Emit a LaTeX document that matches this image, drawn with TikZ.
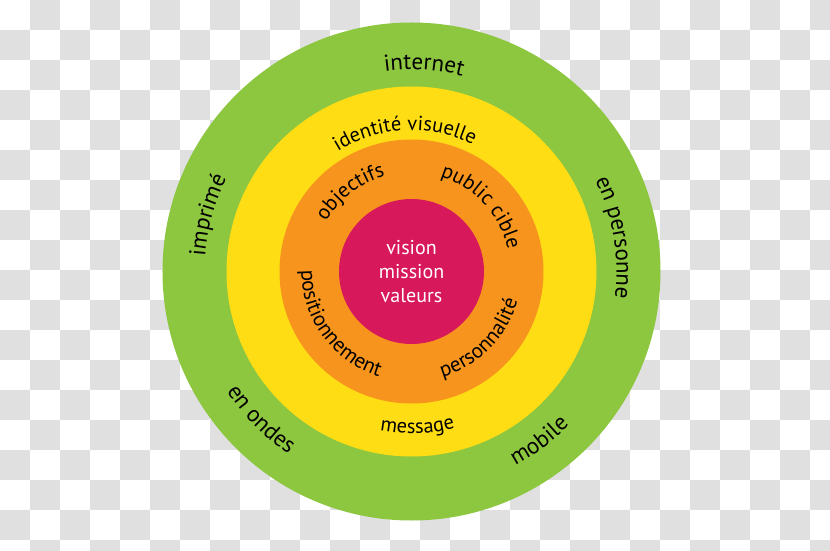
\documentclass[tikz,border=0pt]{standalone}
\usepackage{fontspec}
\setmainfont{PT Sans}
\usetikzlibrary{decorations.text}
\definecolor{ringgreen}{RGB}{141,198,63}
\definecolor{ringyellow}{RGB}{255,221,21}
\definecolor{ringorange}{RGB}{247,148,29}
\definecolor{coremagenta}{RGB}{215,25,92}
\definecolor{checkgrey}{RGB}{224,224,224}
\tikzset{
  ring/.style={circle, inner sep=0pt, draw=none},
  checker/.style={fill=checkgrey},
}
% #1 baseline radius (pt), #2 centre angle, #3 font size, #4 text
\newcommand\cwlabel[4]{%
  \path[decorate,decoration={text along path,text align=center,
    text={|\fontsize{#3}{#3}\selectfont|#4}}]
    (#2+70:#1pt) arc[start angle=#2+70,end angle=#2-70,radius=#1pt];}
\newcommand\ccwlabel[4]{%
  \path[decorate,decoration={text along path,text align=center,
    text={|\fontsize{#3}{#3}\selectfont|#4}}]
    (#2-70:#1pt) arc[start angle=#2-70,end angle=#2+70,radius=#1pt];}
\begin{document}
\begin{tikzpicture}[x=1pt,y=1pt]
\useasboundingbox (-411.5,-279.5) rectangle (418.5,271.5);
\begin{scope}
  \clip (-411.5,-279.5) rectangle (418.5,271.5);
  \fill[white] (-411.5,-279.5) rectangle (418.5,271.5);
  \foreach \i in {0,...,27}{
    \foreach \j in {0,...,18}{
      \pgfmathtruncatemacro\chk{mod(\i+\j,2)}
      \ifnum\chk=1
        \fill[checker] (\i*30-411.5,271.5-\j*30) rectangle ++(30,-30);
      \fi
    }
  }
\end{scope}
\node[ring, fill=ringgreen, minimum size=498pt] (green) at (0,0) {};
\node[ring, fill=ringyellow, minimum size=370pt] (yellow) at (0,0) {};
\node[ring, fill=ringorange, minimum size=264pt] (orange) at (0,0) {};
\node[ring, fill=coremagenta, minimum size=145pt] (core) at (0,0) {};
\node[text=white, align=center, font=\fontsize{20}{24}\selectfont] (coretext) at (0,-0.5) {vision\\mission\\valeurs};
% green ring
\cwlabel{202}{86.5}{23}{internet}
\cwlabel{205}{9.5}{23}{en personne}
\cwlabel{207}{164.5}{23}{imprimé}
\ccwlabel{220}{-135.5}{23}{en ondes}
\ccwlabel{220}{-53}{23}{mobile}
% yellow ring
\cwlabel{141}{92.8}{20.5}{identité visuelle}
\ccwlabel{162}{-87.8}{20.5}{message}
% orange ring
\cwlabel{99}{127.5}{21}{objectifs}
\cwlabel{99}{43}{21}{public cible}
\ccwlabel{110}{216}{21}{positionnement}
\ccwlabel{110}{-44.5}{21}{personnalité}
\end{tikzpicture}
\end{document}
